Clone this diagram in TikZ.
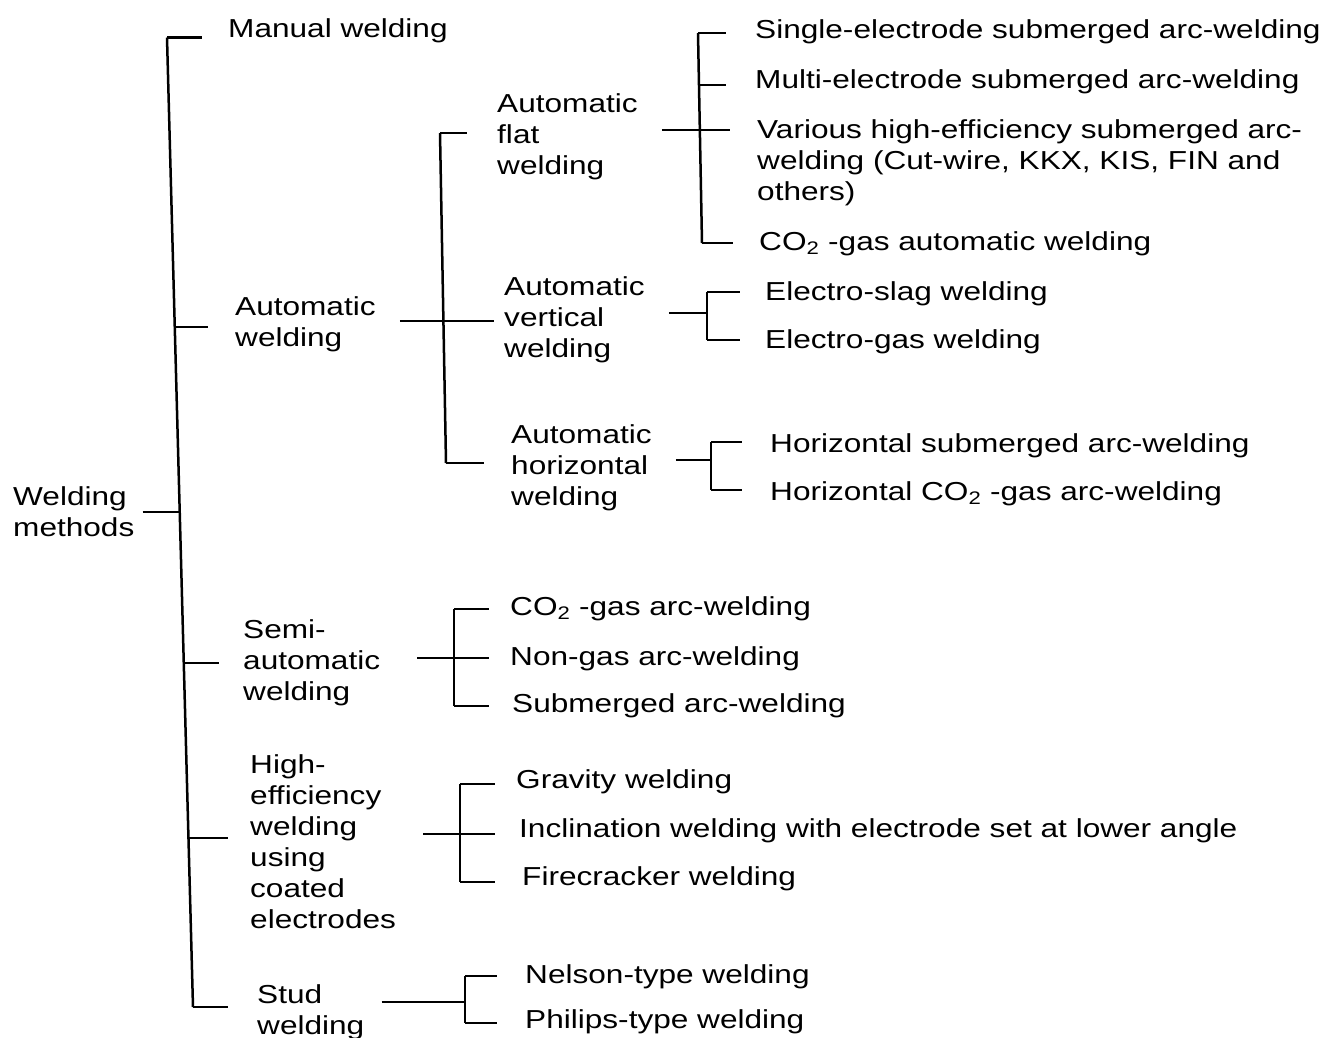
\documentclass[tikz,border=0pt]{standalone}
\usepackage{fontspec}
\setmainfont{Liberation Sans}[FakeStretch=1.215]
\begin{document}
\begin{tikzpicture}[x=1pt,y=-1pt,
  font=\fontsize{26}{31}\selectfont,
  wire/.style={line width=2.5pt},
  lbl/.style={inner sep=0pt, anchor=base west},
  blk/.style={inner sep=0pt, anchor=north west, align=left}]
\fill[white] (0,0) rectangle (1334,1038);
\useasboundingbox (0,0) rectangle (1334,1038);

% ---------- labels ----------
\node[blk] (methods) at (13,486) {Welding\\methods};
\node[lbl] (manual) at (228,37.5) {Manual welding};
\node[blk] (auto) at (235,296) {Automatic\\welding};
\node[blk] (semi) at (243,619) {Semi-\\automatic\\welding};
\node[blk] (high) at (250,754) {High-\\efficiency\\welding\\using\\coated\\electrodes};
\node[blk] (stud) at (257,984) {Stud\\welding};

\node[blk] (flat) at (497,93) {Automatic\\flat\\welding};
\node[blk] (vert) at (504,276) {Automatic\\vertical\\welding};
\node[blk] (horiz) at (511,424) {Automatic\\horizontal\\welding};

\node[lbl] (single) at (755,39) {Single-electrode submerged arc-welding};
\node[lbl] (multi) at (755,89) {Multi-electrode submerged arc-welding};
\node[blk] (various) at (757,119) {Various high-efficiency submerged arc-\\welding (Cut-wire, KKX, KIS, FIN and\\others)};
\node[lbl] (co2auto) at (759,250) {CO\textsubscript{2} -gas automatic welding};

\node[lbl] (eslag) at (765,300) {Electro-slag welding};
\node[lbl] (egas) at (765,348) {Electro-gas welding};

\node[lbl] (hsub) at (770,452) {Horizontal submerged arc-welding};
\node[lbl] (hco2) at (770,500) {Horizontal CO\textsubscript{2} -gas arc-welding};

\node[lbl] (sco2) at (510,615) {CO\textsubscript{2} -gas arc-welding};
\node[lbl] (snon) at (510,665) {Non-gas arc-welding};
\node[lbl] (ssub) at (512,712) {Submerged arc-welding};

\node[lbl] (grav) at (516,788) {Gravity welding};
\node[lbl] (incl) at (519,837) {Inclination welding with electrode set at lower angle};
\node[lbl] (fire) at (522,885) {Firecracker welding};

\node[lbl] (nelson) at (525,983) {Nelson-type welding};
\node[lbl] (philips) at (525,1028) {Philips-type welding};

% ---------- main bracket ----------
\coordinate (mTop) at (167,37.5);
\coordinate (mBot) at (193,1007);
\coordinate (mA) at (174.8,327);
\coordinate (mW) at (179.7,512);
\coordinate (mS) at (183.8,663);
\coordinate (mH) at (188.5,838);
\draw[wire] (mTop) -- (mBot);
\draw[wire] (mTop) -- ([xshift=-26pt]mTop -| manual.west);
\draw[wire] (mA) -- ([xshift=-27pt]mA -| auto.west);
\draw[wire] ([xshift=8pt]mW -| methods.east) -- (mW);
\draw[wire] (mS) -- ([xshift=-24pt]mS -| semi.west);
\draw[wire] (mH) -- ([xshift=-22pt]mH -| high.west);
\draw[wire] (mBot) -- ([xshift=-29pt]mBot -| stud.west);

% ---------- automatic welding ----------
\coordinate (aT) at (440,133);
\coordinate (aB) at (446,463);
\coordinate (aJ) at (443.4,321);
\draw[wire] (aT) -- (aB);
\draw[wire] (aT) -- ([xshift=-30pt]aT -| flat.west);
\draw[wire] (aB) -- ([xshift=-27pt]aB -| horiz.west);
\draw[wire] ([xshift=24pt]aJ -| auto.east) -- ([xshift=-10pt]aJ -| vert.west);

% flat
\coordinate (fT) at (698,33);
\coordinate (fM) at (699,85);
\coordinate (fJ) at (699.8,130);
\coordinate (fB) at (702,243);
\draw[wire] (fT) -- (fB);
\draw[wire] ([xshift=24pt]fJ -| flat.east) -- ([xshift=-27pt]fJ -| various.west);
\draw[wire] (fT) -- ([xshift=-29pt]fT -| single.west);
\draw[wire] (fM) -- ([xshift=-29pt]fM -| multi.west);
\draw[wire] (fB) -- ([xshift=-26pt]fB -| co2auto.west);

% vertical
\coordinate (vT) at (707,292);
\coordinate (vJ) at (707,313);
\coordinate (vB) at (707,340);
\draw[wire] (vT) -- (vB);
\draw[wire] ([xshift=24pt]vJ -| vert.east) -- (vJ);
\draw[wire] (vT) -- ([xshift=-25pt]vT -| eslag.west);
\draw[wire] (vB) -- ([xshift=-25pt]vB -| egas.west);

% horizontal
\coordinate (hT) at (711,442);
\coordinate (hJ) at (711,460);
\coordinate (hB) at (711,490);
\draw[wire] (hT) -- (hB);
\draw[wire] ([xshift=24pt]hJ -| horiz.east) -- (hJ);
\draw[wire] (hT) -- ([xshift=-28pt]hT -| hsub.west);
\draw[wire] (hB) -- ([xshift=-28pt]hB -| hco2.west);

% ---------- semi-automatic ----------
\coordinate (sT) at (454,609);
\coordinate (sJ) at (454,658);
\coordinate (sB) at (454,706);
\draw[wire] (sT) -- (sB);
\draw[wire] ([xshift=37pt]sJ -| semi.east) -- ([xshift=-21pt]sJ -| snon.west);
\draw[wire] (sT) -- ([xshift=-21pt]sT -| sco2.west);
\draw[wire] (sB) -- ([xshift=-23pt]sB -| ssub.west);

% ---------- coated electrodes ----------
\coordinate (eT) at (460,784);
\coordinate (eJ) at (460,834);
\coordinate (eB) at (460,882);
\draw[wire] (eT) -- (eB);
\draw[wire] ([xshift=27pt]eJ -| high.east) -- ([xshift=-24pt]eJ -| incl.west);
\draw[wire] (eT) -- ([xshift=-21pt]eT -| grav.west);
\draw[wire] (eB) -- ([xshift=-27pt]eB -| fire.west);

% ---------- stud ----------
\coordinate (dT) at (465,976);
\coordinate (dJ) at (465,1002);
\coordinate (dB) at (465,1023);
\draw[wire] (dT) -- (dB);
\draw[wire] ([xshift=17pt]dJ -| stud.east) -- (dJ);
\draw[wire] (dT) -- ([xshift=-28pt]dT -| nelson.west);
\draw[wire] (dB) -- ([xshift=-28pt]dB -| philips.west);
\end{tikzpicture}
\end{document}
